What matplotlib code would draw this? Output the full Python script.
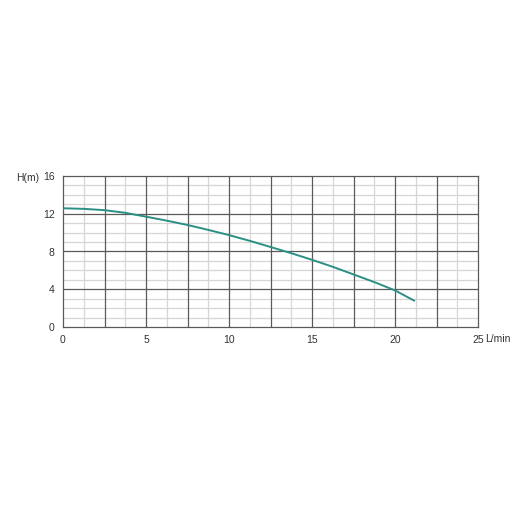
import matplotlib
matplotlib.use("Agg")
import matplotlib.pyplot as plt
import numpy as np

flow = [0, 1.25, 2.5, 3.75, 5, 6.25, 7.5, 8.75, 10, 11.25, 12.5, 13.75, 15, 16.25, 17.5, 18.75, 20, 21.2]
head = [12.58, 12.52, 12.38, 12.1, 11.69, 11.27, 10.81, 10.29, 9.74, 9.13, 8.48, 7.82, 7.12, 6.38, 5.57, 4.76, 3.88, 2.75]

xticks = [0, 5, 10, 15, 20, 25]
yticks = [0, 4, 8, 12, 16]

plt.rcParams['font.family'] = ['Liberation Sans', 'DejaVu Sans']

fig = plt.figure(figsize=(5.3, 5.3), dpi=100)
ax = fig.add_axes([63/530, 203/530, 415/530, 151/530])

for x in np.arange(1.25, 25, 2.5):
    ax.axvline(x, color="#d6d6d6", lw=0.9, zorder=1)
for y in range(1, 16):
    if y % 4:
        ax.axhline(y, color="#d6d6d6", lw=0.9, zorder=1)
for x in np.arange(2.5, 25, 2.5):
    ax.axvline(x, color="#5a5a5a", lw=0.9, zorder=2)
for y in [4, 8, 12]:
    ax.axhline(y, color="#5a5a5a", lw=0.9, zorder=2)

ax.plot(flow, head, color="#2a8f84", lw=1.4, zorder=3, solid_capstyle="butt")

ax.set_xlim(0, 25)
ax.set_ylim(0, 16)
ax.set_xticks(xticks)
ax.set_yticks(yticks)
ax.tick_params(length=0, labelsize=7.5, colors="#333333")
ax.tick_params(axis="y", pad=6)
ax.tick_params(axis="x", pad=6)
for s in ax.spines.values():
    s.set_color("#5a5a5a")
    s.set_linewidth(0.9)

fig.text(28/530, 1 - 178/530, "H(m)", fontsize=7.5, color="#333333", ha="center", va="center")
fig.text(498/530, 1 - 338.5/530, "L/min", fontsize=7.5, color="#333333", ha="center", va="center")

fig.savefig("out.png", dpi=100, facecolor="white")
